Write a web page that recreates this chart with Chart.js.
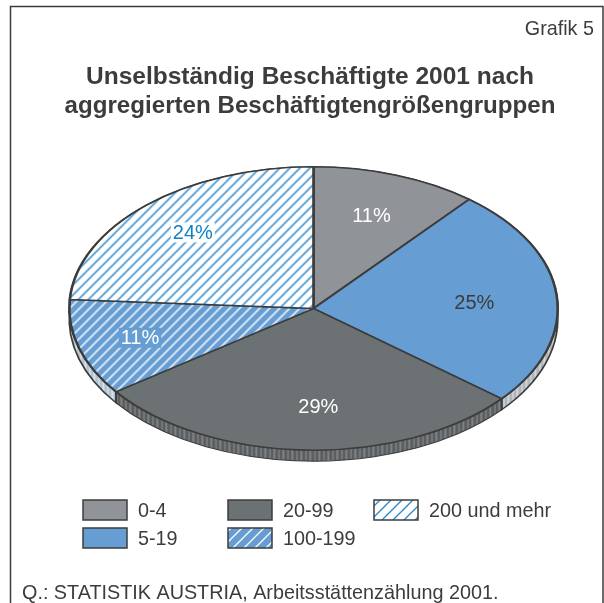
<!DOCTYPE html>
<html><head><meta charset="utf-8">
<style>html,body{margin:0;padding:0;background:#fff}canvas{display:block}</style>
<script src="https://cdn.jsdelivr.net/npm/chart.js@4"></script>
</head><body>
<canvas id="c" width="604" height="603"></canvas>
<script>
const categories = ['0-4', '5-19', '20-99', '100-199', '200 und mehr'];
const shares = [11, 25, 29, 11, 24];
const titleLines = ['Unselbständig Beschäftigte 2001 nach', 'aggregierten Beschäftigtengrößengruppen'];
const tag = 'Grafik 5';
const source = 'Q.: STATISTIK AUSTRIA, Arbeitsstättenzählung 2001.';

const INK = '#3c3c3c', GREY = '#909498', BLUE = '#669dd3', DARK = '#6c7173', LINE = '#2586cc';
const FONT = '"Liberation Sans", Arial, sans-serif';
const squash = 0.58, pieX = 313.5, pieY = 308.5, rimDepth = 11;

function hatch(bg, fg, period, width, yScale) {
  const t = document.createElement('canvas'); t.width = t.height = period;
  const g = t.getContext('2d');
  g.fillStyle = bg; g.fillRect(0, 0, period, period);
  g.strokeStyle = fg; g.lineWidth = width;
  g.beginPath();
  g.moveTo(-period, period); g.lineTo(period, -period);
  g.moveTo(0, period); g.lineTo(period, 0);
  g.moveTo(0, 2 * period); g.lineTo(2 * period, 0);
  g.stroke();
  const p = g.createPattern(t, 'repeat');
  p.setTransform(new DOMMatrix().scale(1, yScale));
  return p;
}
function ribs(bg, fg) {
  const t = document.createElement('canvas'); t.width = 9; t.height = 4;
  const g = t.getContext('2d');
  g.fillStyle = bg; g.fillRect(0, 0, 9, 4);
  g.fillStyle = fg; g.fillRect(0, 0, 1.5, 4); g.fillRect(5, 0, 1, 4);
  return g.createPattern(t, 'repeat');
}

const pieFills = [GREY, BLUE, DARK,
  hatch(BLUE, '#ffffff', 10, 1.45, 1 / squash),
  hatch('#ffffff', LINE, 10, 1.45, 1 / squash)];
const keyFills = [GREY, BLUE, DARK,
  hatch(BLUE, '#ffffff', 11, 1.3, 1),
  hatch('#ffffff', LINE, 11, 1.3, 1)];
const rimFills = [ribs('#b4bcc2', '#dfe5ea'), ribs('#aeb5ba', '#dde2e6'), ribs('#5c5f61', '#8b8e90'),
  ribs('#b2c4d2', '#e4edf3'), ribs('#b4bcc2', '#dfe5ea')];
const labelColors = ['#ffffff', INK, '#ffffff', '#ffffff', '#0f82c6'];
const labelBacks = [null, null, null, BLUE, '#ffffff'];
const labelReach = [0.70, 0.66, 0.69, 0.74, 0.73];
const labelTurn = [0, 0.03, -0.06, 0, 0.01];

const tiltedPie = {
  id: 'tiltedPie',
  beforeDatasetsDraw(chart) {
    const ctx = chart.ctx, arcs = chart.getDatasetMeta(0).data;
    const a0 = arcs[0].getProps(['x', 'y']);
    ctx.save();
    ctx.translate(pieX, pieY);
    ctx.scale(1, squash);
    ctx.translate(-a0.x, -a0.y);
    const dy = rimDepth / squash;
    arcs.forEach((arc, i) => {
      const p = arc.getProps(['x', 'y', 'startAngle', 'endAngle', 'outerRadius']);
      ctx.beginPath();
      ctx.arc(p.x, p.y, p.outerRadius, p.startAngle, p.endAngle);
      ctx.arc(p.x, p.y + dy, p.outerRadius, p.endAngle, p.startAngle, true);
      ctx.closePath();
      ctx.fillStyle = rimFills[i];
      ctx.fill();
      ctx.strokeStyle = INK; ctx.lineWidth = 1.8;
      ctx.stroke();
    });
  },
  afterDatasetsDraw(chart) {
    const ctx = chart.ctx, arcs = chart.getDatasetMeta(0).data;
    ctx.restore();
    ctx.save();
    ctx.font = '20px ' + FONT;
    ctx.textAlign = 'center'; ctx.textBaseline = 'middle';
    arcs.forEach((arc, i) => {
      const p = arc.getProps(['startAngle', 'endAngle', 'outerRadius']);
      const mid = (p.startAngle + p.endAngle) / 2 + labelTurn[i];
      const x = pieX + Math.cos(mid) * p.outerRadius * labelReach[i];
      const y = pieY + Math.sin(mid) * p.outerRadius * labelReach[i] * squash;
      const text = shares[i] + '%';
      if (labelBacks[i]) {
        const w = ctx.measureText(text).width + 4;
        ctx.fillStyle = labelBacks[i];
        ctx.fillRect(x - w / 2, y - 10, w, 20);
      }
      ctx.fillStyle = labelColors[i];
      ctx.fillText(text, x, y + 1);
    });
    ctx.restore();
  }
};

const page = {
  id: 'page',
  afterDraw(chart) {
    const ctx = chart.ctx;
    ctx.save();
    ctx.strokeStyle = INK; ctx.lineWidth = 1.5;
    ctx.beginPath();
    ctx.moveTo(10.5, 603); ctx.lineTo(10.5, 6.5); ctx.lineTo(603, 6.5); ctx.lineTo(603, 603);
    ctx.stroke();
    ctx.fillStyle = INK;
    ctx.font = '19.8px ' + FONT;
    ctx.textBaseline = 'alphabetic';
    ctx.textAlign = 'right';
    ctx.fillText(tag, 594, 35);
    ctx.textAlign = 'left';
    ctx.fillText(source, 22, 599);
    const columns = [83, 228, 374], rows = [500, 528];
    categories.forEach((name, i) => {
      const x = columns[Math.floor(i / 2)], y = rows[i % 2];
      ctx.fillStyle = keyFills[i];
      ctx.fillRect(x, y, 44, 20);
      ctx.strokeStyle = INK; ctx.lineWidth = 1.5;
      ctx.strokeRect(x, y, 44, 20);
      ctx.fillStyle = INK;
      ctx.fillText(name, x + 55, y + 17);
    });
    ctx.restore();
  }
};

new Chart(document.getElementById('c'), {
  type: 'pie',
  data: { labels: categories, datasets: [{
    data: shares, backgroundColor: pieFills,
    borderColor: INK, borderWidth: 2.6, borderAlign: 'center', clip: false
  }]},
  options: {
    responsive: false, animation: false, events: [],
    layout: { padding: { left: 64.5, right: 48.5, top: 0, bottom: 0 } },
    plugins: {
      legend: { display: false }, tooltip: { enabled: false },
      title: {
        display: true, text: titleLines, color: INK,
        font: { family: FONT, size: 24.5, weight: 'bold', lineHeight: 1.18 },
        padding: { top: 63, bottom: -20 }
      }
    }
  },
  plugins: [tiltedPie, page]
});
</script>
</body></html>
